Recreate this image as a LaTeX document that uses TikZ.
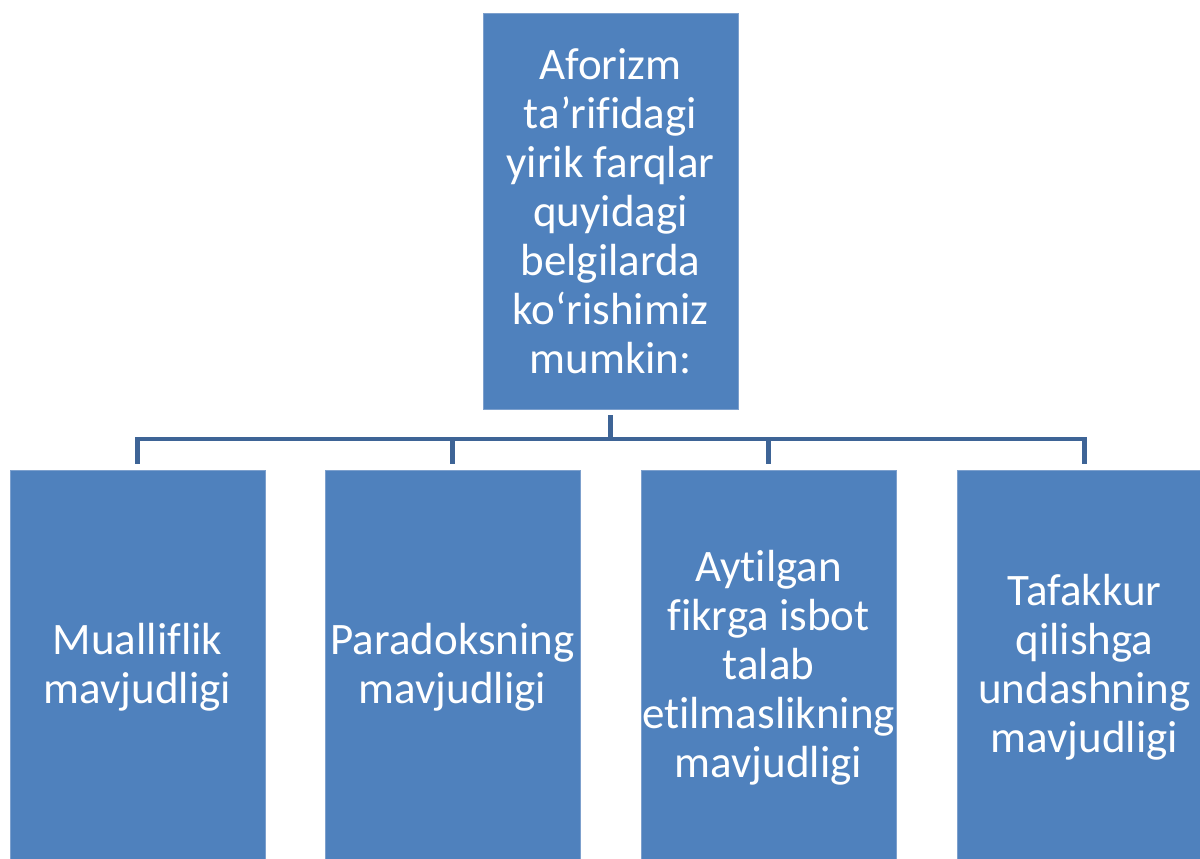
\documentclass[tikz,border=0pt]{standalone}
\usepackage{fontspec}
\setmainfont[Ligatures=NoCommon]{Carlito}
\definecolor{boxblue}{RGB}{79,129,189}
\definecolor{boxedge}{RGB}{125,160,205}
\definecolor{connblue}{RGB}{62,100,150}
\tikzset{
  blk/.style={rectangle, fill=boxblue, draw=boxedge, line width=0.8pt,
    minimum width=255pt, inner sep=0pt, align=center, text=white,
    font=\fontsize{45}{49}\selectfont},
  topblk/.style={blk, minimum height=396pt},
  botblk/.style={blk, minimum height=395pt},
  conn/.style={draw=connblue, line width=4.5pt, line join=miter}
}
\begin{document}
\begin{tikzpicture}[x=1pt,y=-1pt]
\useasboundingbox (0,0) rectangle (1200,859);
\clip (0,0) rectangle (1200,859);
\node[topblk] (top) at (610.5,211) {Aforizm\\ta’rifidagi\\yirik farqlar\\quyidagi\\belgilarda\\ko‘rishimiz\\mumkin:};
\node[botblk] (b1) at (137.5,667.5) {Mualliflik\\mavjudligi};
\node[botblk] (b2) at (452.5,667.5) {Paradoksning\\mavjudligi};
\node[botblk] (b3) at (768.5,667.5) {Aytilgan\\fikrga isbot\\talab\\etilmaslikning\\mavjudligi};
\node[botblk] (b4) at (1084.5,667.5) {Tafakkur\\qilishga\\undashning\\mavjudligi};
\coordinate (bus) at (610.5,439);
\draw[conn] ([yshift=-6pt]top.south) -- (top.south |- bus);
\draw[conn] ([yshift=6pt]b1.north) -- (b1.north |- bus) -- (b4.north |- bus) -- ([yshift=6pt]b4.north);
\draw[conn] (b2.north |- bus) -- ([yshift=6pt]b2.north);
\draw[conn] (b3.north |- bus) -- ([yshift=6pt]b3.north);
\end{tikzpicture}
\end{document}
